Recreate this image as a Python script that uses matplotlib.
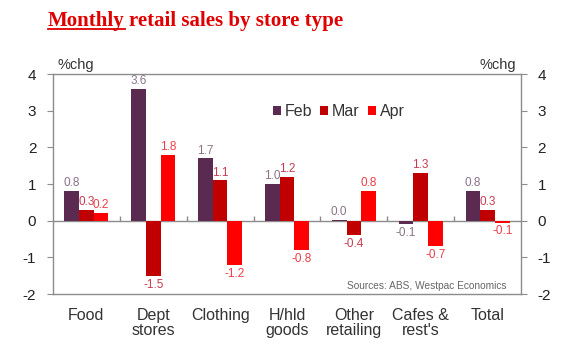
import matplotlib

matplotlib.use("Agg")
import matplotlib.pyplot as plt  # noqa: E402
import numpy as np  # noqa: E402

categories = ["Food", "Dept\nstores", "Clothing", "H/hld\ngoods", "Other\nretailing", "Cafes &\nrest's", "Total"]
months = ["Feb", "Mar", "Apr"]
feb = [0.8, 3.6, 1.7, 1.0, 0.02, -0.1, 0.8]
mar = [0.3, -1.5, 1.1, 1.2, -0.4, 1.3, 0.3]
apr = [0.2, 1.8, -1.2, -0.8, 0.8, -0.7, -0.05]
y_ticks = [-2, -1, 0, 1, 2, 3, 4]

bar_colors = ["#5a2a50", "#c00000", "#ff0000"]
label_colors = ["#8a7388", "#c83a50", "#f03c48"]
grey = "#8c8c8c"
font = "Liberation Sans"

fig = plt.figure(figsize=(5.8, 3.52), dpi=100)
ax = fig.add_axes([53 / 580, 1 - 294 / 352, 468 / 580, 220 / 352])

x = np.arange(len(categories))
width = 0.22
for i, (vals, name) in enumerate(zip([feb, mar, apr], months)):
    pos = x + (i - 1) * width
    ax.bar(pos, vals, width, color=bar_colors[i], label=name, zorder=3)
    for px, v in zip(pos, vals):
        off = 0.05 if v >= 0 else -0.08
        ax.text(px, v + off, f"{v:.1f}", ha="center", va="bottom" if v >= 0 else "top",
                fontsize=8.5, color=label_colors[i], family=font, zorder=4)

ax.set_xlim(-0.5, len(categories) - 0.5)
ax.set_ylim(-2, 4)
ax.axhline(0, color=grey, linewidth=1, zorder=2)
ax.vlines(x[:-1] + 0.5, 0, 0.12, color=grey, linewidth=1, zorder=2)

for s in ax.spines.values():
    s.set_color(grey)
    s.set_linewidth(1)

ax.set_yticks(y_ticks)
ax.set_yticklabels([str(t) for t in y_ticks])
ax.tick_params(axis="y", which="both", direction="out", length=4, color=grey,
               labelsize=11, labelcolor="#222222", left=True, right=True,
               labelleft=True, labelright=True, pad=8)
ax.set_xticks(x)
ax.set_xticklabels(categories, family=font, fontsize=11.5, color="#333333", linespacing=1.0, va="top")
ax.tick_params(axis="x", length=0, pad=10)
for lab in ax.get_yticklabels():
    lab.set_family(font)

ax.text(0.01, 1.01, "%chg", transform=ax.transAxes, ha="left", va="bottom",
        fontsize=10.5, color="#333333", family=font)
ax.text(0.99, 1.01, "%chg", transform=ax.transAxes, ha="right", va="bottom",
        fontsize=10.5, color="#333333", family=font)
ax.text(0.97, 0.015, "Sources: ABS, Westpac Economics", transform=ax.transAxes,
        ha="right", va="bottom", fontsize=7.3, color="#666666", family=font)

leg = ax.legend(loc="center", bbox_to_anchor=(0.61, 0.83), ncol=3, frameon=False,
                handlelength=0.5, handleheight=0.5, handletextpad=0.25, columnspacing=0.5,
                prop={"family": font, "size": 11.5})
for t in leg.get_texts():
    t.set_color("#333333")

# title with underlined first word
title_kw = dict(fontsize=15, fontweight="bold", color="#e00000", family="Liberation Serif", va="baseline")
t1 = fig.text(48 / 580, 1 - 26 / 352, "Monthly", **title_kw)
fig.canvas.draw()
bb = t1.get_window_extent().transformed(fig.transFigure.inverted())
fig.text(bb.x1 + 0.008, 1 - 26 / 352, "retail sales by store type", **title_kw)
fig.add_artist(plt.Line2D([bb.x0, bb.x1], [1 - 29 / 352] * 2, color="#e00000", linewidth=1.3,
                          transform=fig.transFigure))

fig.savefig("out.png", dpi=100, facecolor="white")
